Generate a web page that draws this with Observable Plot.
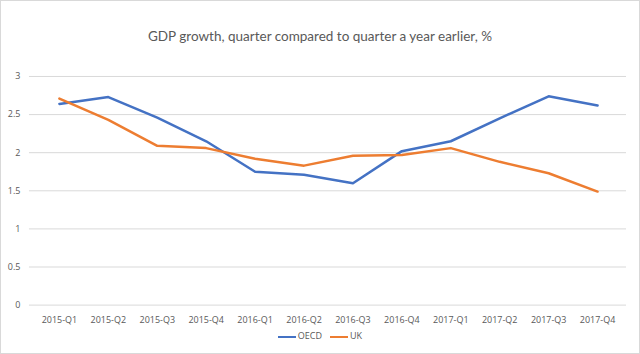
<!DOCTYPE html>
<html>
<head>
<meta charset="utf-8">
<script src="https://cdn.jsdelivr.net/npm/d3@7"></script>
<script src="https://cdn.jsdelivr.net/npm/@observablehq/plot@0.6"></script>
<style>
  html, body { margin: 0; padding: 0; background: #fff; }
  #wrap { position: relative; width: 638px; height: 352px; border: 1px solid #d9d9d9; background: #fff; font-family: "Open Sans", sans-serif; overflow: hidden; }
  #title { position: absolute; left: 0; top: 27px; width: 638px; text-align: center; font-size: 13.5px; color: #595959; font-family: Lato, sans-serif; }
  #chart { position: absolute; left: -1px; top: 59px; }
  #legend { position: absolute; left: 0; top: 328px; width: 638px; text-align: center; font-size: 9px; color: #595959; }
  .sw { display: inline-block; width: 18px; height: 0; border-top: 2.5px solid; vertical-align: middle; margin-right: 2px; }
  .item { display: inline-block; margin: 0 4px; }
</style>
</head>
<body>
<div id="wrap">
  <div id="title"></div>
  <div id="chart"></div>
  <div id="legend"></div>
</div>
<script>
const titleText = "GDP growth, quarter compared to quarter a year earlier, %";
const quarters = ["2015-Q1","2015-Q2","2015-Q3","2015-Q4","2016-Q1","2016-Q2","2016-Q3","2016-Q4","2017-Q1","2017-Q2","2017-Q3","2017-Q4"];
const oecd = [2.64, 2.73, 2.46, 2.15, 1.75, 1.71, 1.60, 2.02, 2.15, 2.45, 2.74, 2.62];
const uk = [2.71, 2.43, 2.09, 2.06, 1.92, 1.83, 1.96, 1.97, 2.06, 1.88, 1.73, 1.49];
const seriesNames = ["OECD", "UK"];
const seriesColors = ["#4472C4", "#ED7D31"];
const yTicks = [0, 0.5, 1, 1.5, 2, 2.5, 3];

const data = [];
quarters.forEach((q, i) => {
  data.push({quarter: q, series: "OECD", value: oecd[i]});
  data.push({quarter: q, series: "UK", value: uk[i]});
});

document.getElementById("title").textContent = titleText;

const chart = Plot.plot({
  width: 640,
  height: 276,
  marginLeft: 29,
  marginRight: 13,
  marginTop: 16,
  marginBottom: 31,
  style: {fontFamily: "Open Sans, sans-serif", fontSize: "9px", color: "#595959", background: "transparent"},
  x: {type: "point", domain: quarters, padding: 0.5, label: null},
  y: {domain: [0, 3], label: null},
  color: {domain: seriesNames, range: seriesColors},
  marks: [
    Plot.ruleY(yTicks, {stroke: "#d9d9d9", strokeWidth: 1}),
    Plot.axisY(yTicks, {tickSize: 0, tickPadding: 9, label: null, tickFormat: d => String(d)}),
    Plot.axisX(quarters, {tickSize: 0, tickPadding: 12, label: null}),
    Plot.line(data, {x: "quarter", y: "value", z: "series", stroke: "series", strokeWidth: 2.5, strokeLinejoin: "round", strokeLinecap: "round"})
  ]
});
document.getElementById("chart").appendChild(chart);

const legend = document.getElementById("legend");
seriesNames.forEach((n, i) => {
  const item = document.createElement("span");
  item.className = "item";
  const sw = document.createElement("span");
  sw.className = "sw";
  sw.style.borderColor = seriesColors[i];
  item.appendChild(sw);
  item.appendChild(document.createTextNode(n));
  legend.appendChild(item);
});
</script>
</body>
</html>
